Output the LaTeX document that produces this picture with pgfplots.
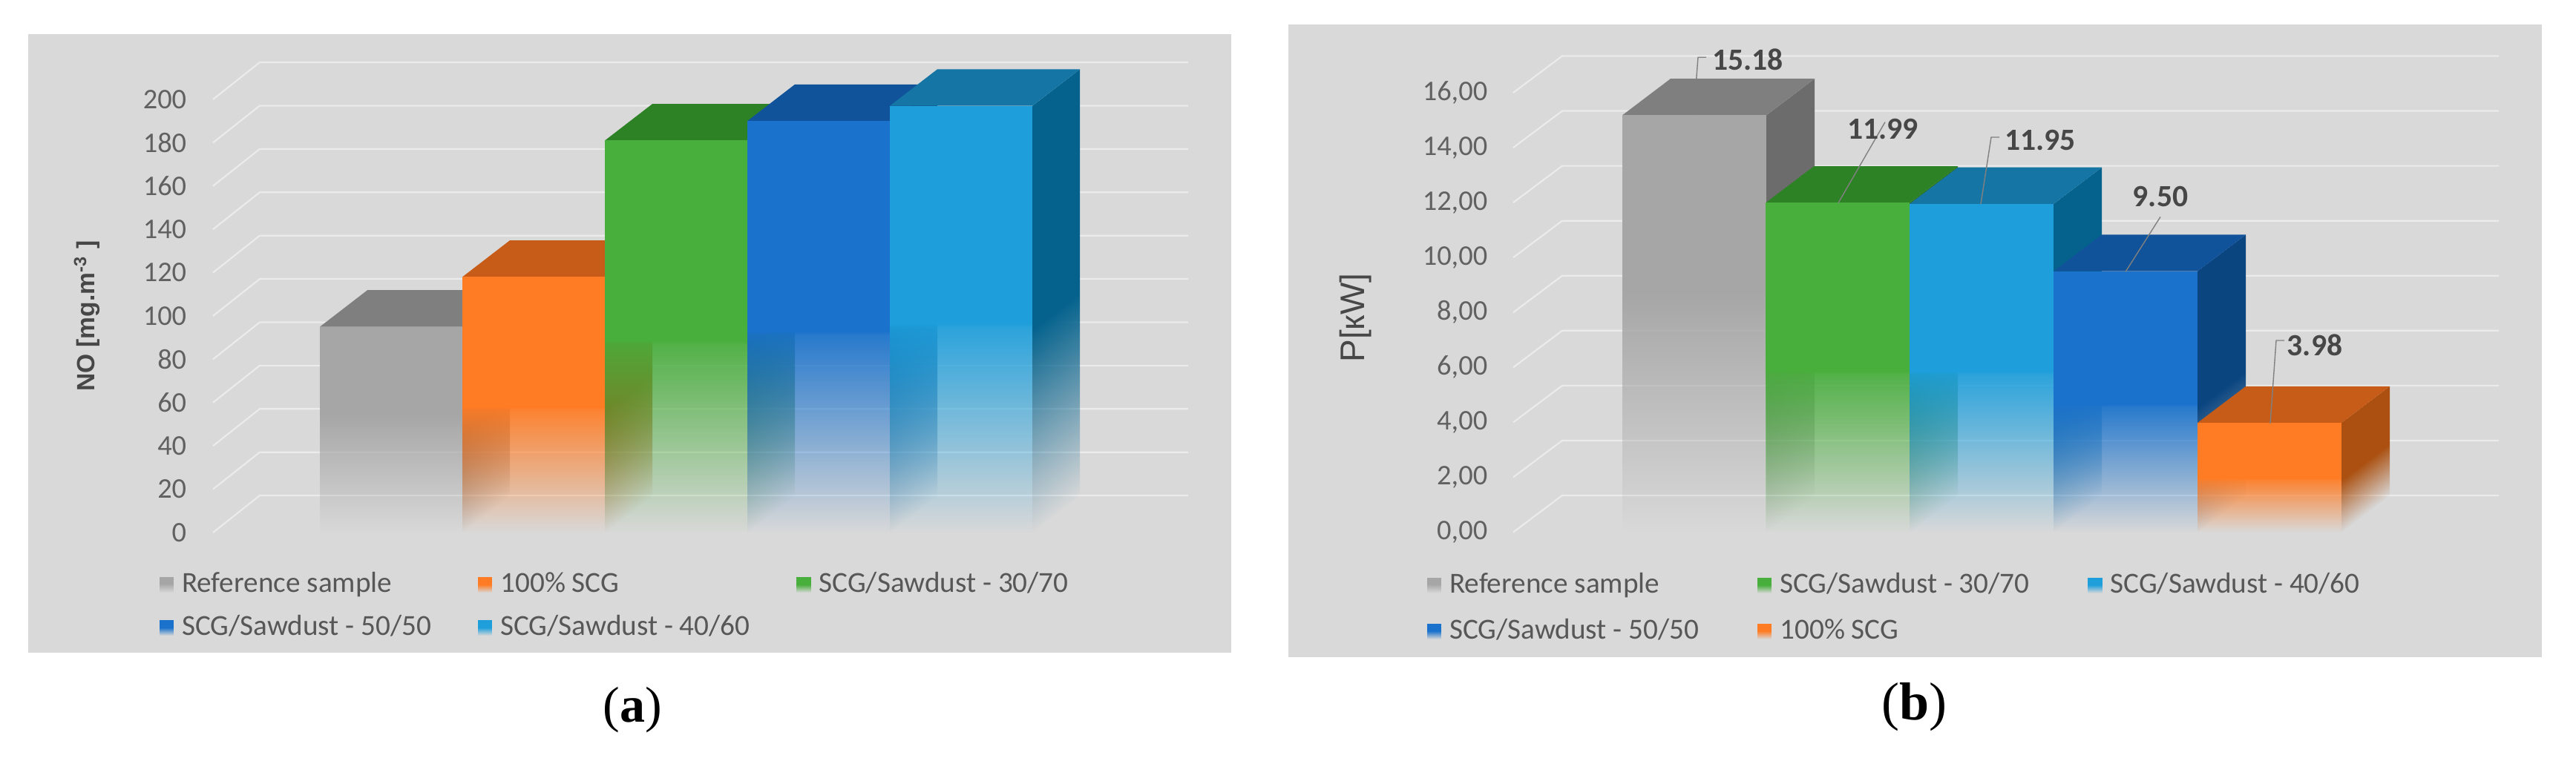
\documentclass[border=0pt]{standalone}
\usepackage{fontspec}
\setmainfont{Carlito}
\newfontfamily\arialfont{Liberation Sans}
\newfontfamily\timesfont{Liberation Serif}
\usepackage{pgfplots}
\pgfplotsset{compat=1.18}
\usetikzlibrary{fadings}
\definecolor{panel}{HTML}{D9D9D9}
\definecolor{gridc}{HTML}{EBEBEB}
\definecolor{grayF}{HTML}{A6A6A6}\definecolor{grayT}{HTML}{7F7F7F}\definecolor{grayS}{HTML}{6C6C6C}
\definecolor{orgF}{HTML}{FF7C24}\definecolor{orgT}{HTML}{C75C18}\definecolor{orgS}{HTML}{AB5010}
\definecolor{grnF}{HTML}{48AE3C}\definecolor{grnT}{HTML}{2E8226}\definecolor{grnS}{HTML}{276F20}
\definecolor{bluF}{HTML}{1A72CC}\definecolor{bluT}{HTML}{10539A}\definecolor{bluS}{HTML}{0A4580}
\definecolor{cyaF}{HTML}{1E9FDC}\definecolor{cyaT}{HTML}{1576A5}\definecolor{cyaS}{HTML}{04628D}
% the fitted path covers the central 50bp of a fading (25bp to 75bp)
% front faces: opaque down to 48% of the height, then fading out to the floor
\pgfdeclareverticalshading{shfront}{100bp}{color(0bp)=(black); color(25bp)=(black); color(49bp)=(white!92!black); color(49.5bp)=(white); color(100bp)=(white)}
\pgfdeclarefading{frontfade}{\pgfuseshading{shfront}}
% the grey bar has no visible step in its fade
\pgfdeclareverticalshading{shgray}{100bp}{color(0bp)=(black); color(25bp)=(black); color(54bp)=(white); color(100bp)=(white)}
\pgfdeclarefading{grayfade}{\pgfuseshading{shgray}}
% side faces: the same fade in the skewed coordinates of the face
\newcommand\mkside[2]{%
  \pgfmathsetmacro\pa{25+25*#2}%
  \pgfmathsetmacro\pb{25+25*#2+24*(1-#2)}%
  \edef\tmp{\noexpand\pgfdeclareverticalshading{sh#1}{100bp}{color(0bp)=(black); color(\pa bp)=(black); color(\pb bp)=(white); color(100bp)=(white)}}\tmp
  \pgfdeclarefading{#1}{\pgfuseshading{sh#1}}}
\mkside{sa}{0.150}\mkside{sb}{0.124}\mkside{sc}{0.085}\mkside{sd}{0.081}\mkside{se}{0.0785}
\mkside{sf}{0.080}\mkside{sg}{0.099}\mkside{si}{0.122}\mkside{sj}{0.250}\mkside{sk}{0.100}
\pgfplotsset{swatch/.style={legend image code/.code={\fill[##1] (0pt,-2.6pt) rectangle (4.8pt,2.6pt);}}}
% [#1 front fading], #2 left x, #3 value, #4 front, #5 top, #6 side, #7 side fading, #8 skew, #9 legend text
\newcommand\threedbar[9][frontfade]{%
  \pgfmathsetmacro\xb{#2+\BW}%
  \pgfmathsetmacro\xc{#2+\BW+\DX}%
  \pgfmathsetmacro\xd{#2+\DX}%
  \pgfmathsetmacro\xm{#2+\BW/2}%
  \pgfmathsetmacro\yb{#3+\DY}%
  \addplot[forget plot,fill=#6,draw=none,path fading=#7,fading transform={yslant=#8}] coordinates {(\xb,0) (\xc,\DY) (\xc,\yb) (\xb,#3)};
  \addplot[forget plot,fill=#5,draw=none] coordinates {(#2,#3) (\xb,#3) (\xc,\yb) (\xd,\yb)};
  \addplot[ybar,bar width=\BWpt,bar shift=0pt,fill=#4,draw=none,path fading=#1,swatch] coordinates {(\xm,#3)};
  \addlegendentry{#9}}
\pgfplotsset{threed/.style={
  scale only axis,clip=false,xtick=\empty,
  axis line style={draw=none},major tick length=0pt,tick style={draw=none},
  /pgf/number format/assume math mode=true,
  yticklabel style={text=black!62,font=\fontsize{9.6}{11}\selectfont,inner xsep=0pt},
  legend cell align=left,
  legend style={draw=none,fill=none,inner sep=0pt,outer sep=0pt,
    font=\fontsize{9.8}{11}\selectfont,text=black!66,legend columns=3,
    nodes={inner xsep=2.75pt,inner ysep=0pt,text height=7pt,text depth=2pt},
    anchor=north west}}}
\begin{document}
\begin{tikzpicture}
\path[use as bounding box,fill=white] (0,0) rectangle (867.75pt,256.5pt);
\fill[panel] (9.5pt,36.5pt) rectangle (414.75pt,245pt);
\fill[panel] (434pt,35pt) rectangle (856.25pt,248.25pt);
\node[font=\timesfont\fontsize{17}{20}\selectfont] at (213pt,17.25pt) {(\textbf{a})};
\node[font=\timesfont\fontsize{18}{20}\selectfont] at (644.75pt,18.25pt) {(\textbf{b})};
% ---------- panel (a)
\begin{axis}[threed,at={(71.75pt,77pt)},anchor=origin,width=328.5pt,height=146pt,
  xmin=287,xmax=1601,ymin=0,ymax=200,ytick={0,20,...,200},
  yticklabel style={xshift=-8.75pt},
  ylabel={NO [mg.m\textsuperscript{-3} ]},
  every axis y label/.style={at={(axis cs:117,100)},rotate=90,anchor=center,
    font=\arialfont\bfseries\fontsize{8.4}{10}\selectfont,text=black!72},
  legend style={at={(axis cs:215,-18)},row sep=5.5pt}]
\def\BW{192}\def\BWpt{48pt}\def\DX{64}\def\DY{16.9}
\pgfplotsinvokeforeach{0,20,...,200}{
  \draw[gridc,line width=0.55pt] (axis cs:287,#1) -- (axis cs:350,{#1+17.1}) -- (axis cs:1601,{#1+17.1});}
\threedbar[grayfade]{431}{95}{grayF}{grayT}{grayS}{sa}{0.150}{\makebox[97pt][l]{Reference sample}}
\threedbar{623}{118}{orgF}{orgT}{orgS}{sb}{0.124}{\makebox[97pt][l]{100\% SCG}}
\threedbar{815}{181}{grnF}{grnT}{grnS}{sc}{0.085}{SCG/Sawdust - 30/70}
\threedbar{1007}{190}{bluF}{bluT}{bluS}{sd}{0.081}{SCG/Sawdust - 50/50}
\threedbar{1199}{197}{cyaF}{cyaT}{cyaS}{se}{0.0785}{SCG/Sawdust - 40/60}
\end{axis}
% ---------- panel (b)
\begin{axis}[threed,at={(509.75pt,77.125pt)},anchor=origin,width=332pt,height=148.125pt,
  xmin=2039,xmax=3367,ymin=0,ymax=16,ytick={0,2,...,16},
  yticklabel style={xshift=-8.5pt,/pgf/number format/.cd,fixed,fixed zerofill,precision=2,use comma},
  ylabel={P[к{W}]},
  every axis y label/.style={at={(axis cs:1827,7.8)},rotate=90,anchor=center,
    font=\arialfont\fontsize{11.5}{13}\selectfont,text=black!72},
  legend style={at={(axis cs:1923,-1.45)},row sep=6.5pt}]
\def\BW{194}\def\BWpt{48.5pt}\def\DX{65}\def\DY{1.33}
\pgfplotsinvokeforeach{0,2,...,16}{
  \draw[gridc,line width=0.55pt] (axis cs:2039,#1) -- (axis cs:2105,{#1+1.337}) -- (axis cs:3367,{#1+1.337});}
\threedbar[grayfade]{2186}{15.18}{grayF}{grayT}{grayS}{sf}{0.080}{\makebox[101pt][l]{Reference sample}}
\threedbar{2379}{11.99}{grnF}{grnT}{grnS}{sg}{0.099}{\makebox[101pt][l]{SCG/Sawdust - 30/70}}
\threedbar{2573}{11.95}{cyaF}{cyaT}{cyaS}{sk}{0.100}{SCG/Sawdust - 40/60}
\threedbar{2767}{9.50}{bluF}{bluT}{bluS}{si}{0.122}{SCG/Sawdust - 50/50}
\threedbar{2961}{3.98}{orgF}{orgT}{orgS}{sj}{0.250}{100\% SCG}
\tikzset{lead/.style={black!50,line width=0.35pt},
  dl/.style={font=\bfseries\fontsize{10.4}{12}\selectfont,text=black!72}}
\draw[lead] (axis cs:2282,15.19) -- (axis cs:2288,17.29) -- (axis cs:2299,17.29);
\node[dl] at (axis cs:2355,17.22) {15.18};
\draw[lead] (axis cs:2477,11.99) -- (axis cs:2540,14.93);
\node[dl] at (axis cs:2537,14.68) {11.99};
\draw[lead] (axis cs:2669,11.95) -- (axis cs:2683,14.38) -- (axis cs:2694,14.38);
\node[dl] at (axis cs:2749,14.28) {11.95};
\draw[lead] (axis cs:2864,9.48) -- (axis cs:2911,11.48);
\node[dl] at (axis cs:2911,12.22) {9.50};
\draw[lead] (axis cs:3059,3.96) -- (axis cs:3067,6.98) -- (axis cs:3078,6.98);
\node[dl] at (axis cs:3119,6.82) {3.98};
\end{axis}
\end{tikzpicture}
\end{document}
